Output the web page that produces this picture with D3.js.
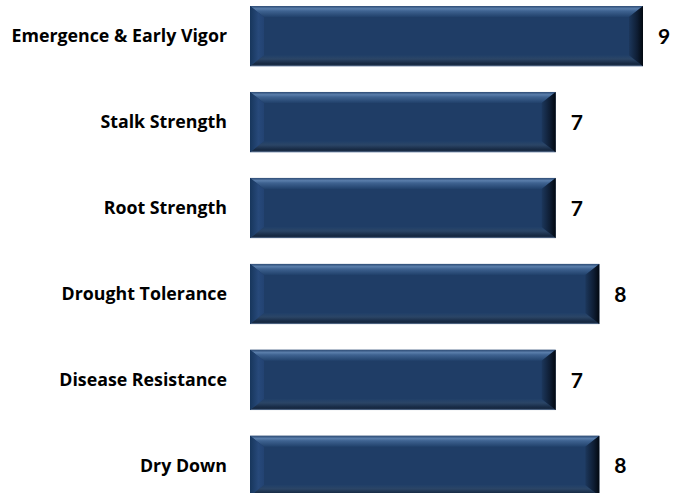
<!DOCTYPE html>
<html>
<head>
<meta charset="utf-8">
<script src="https://cdn.jsdelivr.net/npm/d3@7"></script>
<style>
  body { margin: 0; background: #fff; }
  svg { display: block; }
  text { font-weight: bold; fill: #000; }
</style>
</head>
<body>
<svg width="673" height="493"></svg>
<script>
const categories = ['Emergence & Early Vigor', 'Stalk Strength', 'Root Strength',
                    'Drought Tolerance', 'Disease Resistance', 'Dry Down'];
const ratings = [9, 7, 7, 8, 7, 8];

const svg = d3.select('svg');
const defs = svg.append('defs');

const x = d3.scaleLinear().domain([0, 9]).range([250, 643]);
const y = d3.scaleBand().domain(categories).range([6, 496]).paddingInner(0.3);

// gradients for the bevel pieces
function grad(id, x2, y2, stops) {
    let g = defs.append('linearGradient')
        .attr('id', id)
        .attr('x1', 0).attr('y1', 0)
        .attr('x2', x2).attr('y2', y2);
    stops.forEach(s => {
        g.append('stop').attr('offset', s[0]).attr('stop-color', s[1]);
    });
}

grad('topBevel', 0, 1, [[0, '#2d4b74'], [0.25, '#5a7eab'], [0.45, '#3f6391'], [1, '#21416b']]);
grad('bottomBevel', 0, 1, [[0, '#203f68'], [0.35, '#2b4566'], [0.75, '#172a44'], [0.9, '#1a2c45'], [1, '#7c95b8']]);
grad('leftBevel', 1, 0, [[0, '#17365c'], [0.6, '#27497a'], [1, '#234372']]);
grad('rightBevel', 1, 0, [[0, '#1c375c'], [0.6, '#0e1d33'], [1, '#020810']]);

const bevel = 14;
const vBevel = 11;

const rows = categories.map((c, i) => ({ name: c, value: ratings[i] }));

const bars = svg.append('g')
    .selectAll('g')
    .data(rows)
    .enter()
    .append('g');

bars.append('rect')
    .attr('x', x(0))
    .attr('y', d => y(d.name))
    .attr('width', d => x(d.value) - x(0))
    .attr('height', y.bandwidth())
    .attr('fill', '#1f3d66');

// bevel polygons
function pts(list) {
    return list.map(p => p.join(',')).join(' ');
}

bars.append('polygon')
    .attr('points', d => {
        let x0 = x(0), x1 = x(d.value), y0 = y(d.name);
        return pts([[x0, y0], [x1, y0], [x1 - bevel, y0 + vBevel], [x0 + bevel, y0 + vBevel]]);
    })
    .attr('fill', 'url(#topBevel)');

bars.append('polygon')
    .attr('points', d => {
        let x0 = x(0), x1 = x(d.value), y1 = y(d.name) + y.bandwidth();
        return pts([[x0, y1], [x1, y1], [x1 - bevel, y1 - vBevel], [x0 + bevel, y1 - vBevel]]);
    })
    .attr('fill', 'url(#bottomBevel)');

bars.append('polygon')
    .attr('points', d => {
        let x0 = x(0), y0 = y(d.name), y1 = y0 + y.bandwidth();
        return pts([[x0, y0], [x0 + bevel, y0 + vBevel], [x0 + bevel, y1 - vBevel], [x0, y1]]);
    })
    .attr('fill', 'url(#leftBevel)');

bars.append('polygon')
    .attr('points', d => {
        let x1 = x(d.value), y0 = y(d.name), y1 = y0 + y.bandwidth();
        return pts([[x1, y0], [x1 - bevel, y0 + vBevel], [x1 - bevel, y1 - vBevel], [x1, y1]]);
    })
    .attr('fill', 'url(#rightBevel)');

// category labels
svg.append('g')
    .selectAll('text')
    .data(rows)
    .enter()
    .append('text')
        .attr('x', 227)
        .attr('y', d => y(d.name) + y.bandwidth() / 2)
        .attr('dy', '0.35em')
        .attr('text-anchor', 'end')
        .attr('font-family', '"Open Sans", sans-serif')
        .attr('font-size', '17.8px')
        .text(d => d.name);

// value labels
svg.append('g')
    .selectAll('text')
    .data(rows)
    .enter()
    .append('text')
        .attr('x', d => x(d.value) + 15)
        .attr('y', d => y(d.name) + y.bandwidth() / 2)
        .attr('dy', '0.36em')
        .attr('font-family', 'Lato, sans-serif')
        .attr('font-size', '21px')
        .text(d => d.value);
</script>
</body>
</html>
